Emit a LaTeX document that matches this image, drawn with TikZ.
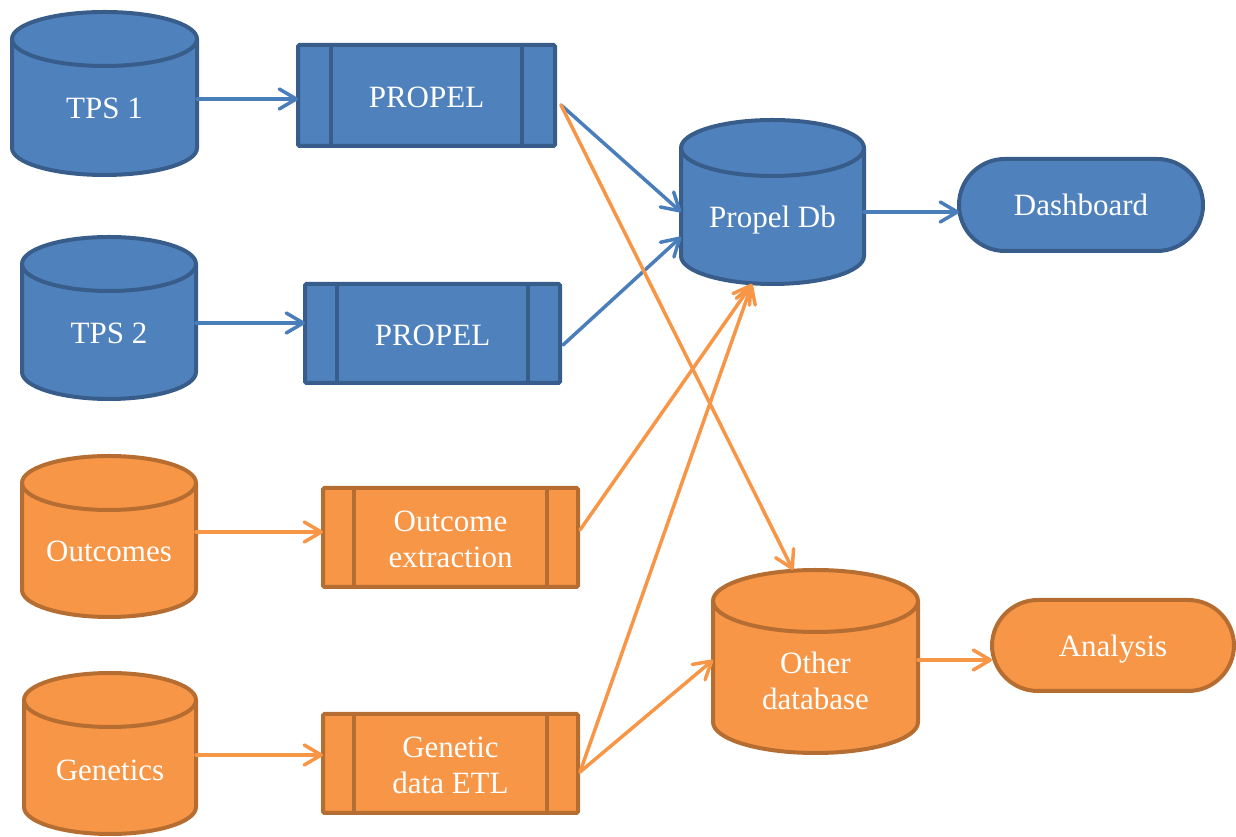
\documentclass[tikz,border=0pt]{standalone}
\usepackage{fontspec}
\setmainfont{Liberation Serif}
\usetikzlibrary{arrows.meta,calc}

\definecolor{bluefill}{HTML}{4F81BD}
\definecolor{blueline}{HTML}{385D8A}
\definecolor{bluearrow}{HTML}{4A7EBB}
\definecolor{orangefill}{HTML}{F79646}
\definecolor{orangeline}{HTML}{B66D31}
\definecolor{orangearrow}{HTML}{F79646}

\tikzset{
  lbl/.style={text=white, font=\fontsize{31}{36}\selectfont, align=center, inner sep=0pt},
  frame/.style={inner sep=0pt, outer sep=0pt},
  procbox/.style={frame, fill=#1fill, draw=#1line, line width=4pt, rounded corners=1.5pt,
    text=white, font=\fontsize{31}{36}\selectfont, align=center},
  terminal/.style={frame, fill=#1fill, draw=#1line, line width=4pt, rounded corners=45.9pt,
    text=white, font=\fontsize{31}{36}\selectfont, text depth=0pt, align=center},
  flow/.style={draw=#1arrow, line width=3.5pt, line cap=round,
    -{Straight Barb[length=17pt, width=20pt, line cap=round, line join=round]}},
}

% database cylinder: name, colour, centre, width, height, cap radius, label shift, label
\newcommand\dbcyl[8]{%
  \node[frame, minimum width=#4, minimum height=#5] (#1) at (#3) {};
  \filldraw[fill=#2fill, draw=#2line, line width=4pt, line join=round]
    ([yshift=-#6]#1.north west) -- ([yshift=#6]#1.south west)
    arc[start angle=180, end angle=360, x radius=#4/2, y radius=#6]
    -- ([yshift=-#6]#1.north east)
    arc[start angle=0, end angle=180, x radius=#4/2, y radius=#6] -- cycle;
  \draw[draw=#2line, line width=4pt] ([yshift=-#6]#1.north west)
    arc[start angle=180, end angle=360, x radius=#4/2, y radius=#6];
  \node[lbl] (#1-text) at ([yshift=#7]#1.center) {#8};
}

% predefined-process box: name, colour, centre, width, height, bar inset, label
\newcommand\process[7]{%
  \node[procbox=#2, minimum width=#4, minimum height=#5] (#1) at (#3) {};
  \draw[#2line, line width=4pt] ([xshift=#6]#1.north west) -- ([xshift=#6]#1.south west);
  \draw[#2line, line width=4pt] ([xshift=-#6]#1.north east) -- ([xshift=-#6]#1.south east);
  \node[lbl] (#1-text) at ([yshift=-1.5]#1.center) {#7};
}

\begin{document}
\begin{tikzpicture}[x=1pt, y=1pt]
\useasboundingbox (0,0) rectangle (1236,837);

% data sources
\dbcyl{tps1}{blue}{104.5,743.5}{185}{163}{27}{-14.5}{TPS 1}
\dbcyl{tps2}{blue}{109,519}{174}{162}{27}{-15}{TPS 2}
\dbcyl{outcomes}{orange}{109,300.5}{174}{161}{27}{-14.5}{Outcomes}
\dbcyl{genetics}{orange}{110,83.5}{172}{161}{27}{-16.5}{Genetics}

% target databases
\dbcyl{propeldb}{blue}{772.5,635}{183}{164}{28}{-18}{Propel Db}
\dbcyl{otherdb}{orange}{815.5,175.5}{205}{183}{31}{-19.5}{Other\\database}

% processing steps
\process{propel1}{blue}{426.5,741.5}{257}{101}{33}{PROPEL}
\process{propel2}{blue}{432.5,503.5}{255}{99}{32}{PROPEL}
\process{outext}{orange}{450.5,299.5}{255}{99}{31}{Outcome\\extraction}
\process{genetl}{orange}{450.5,73.5}{255}{99}{31}{Genetic\\data ETL}

% consumers
\node[terminal=blue, minimum width=244, minimum height=92] (dash) at (1081,632) {Dashboard};
\node[terminal=orange, minimum width=242, minimum height=91] (analysis) at (1113,191.5) {Analysis};

% branching points
\coordinate (p1out) at ([xshift=6,yshift=-9.5]propel1.east);
\coordinate (geneout) at ([xshift=2,yshift=-8.5]genetl.east);

% blue flows
\draw[flow=blue] ([yshift=-5.5]tps1.east) -- ([yshift=-5.5]tps1.east -| propel1.west);
\draw[flow=blue] ([yshift=-5]tps2.east) -- ([yshift=-5]tps2.east -| propel2.west);
\draw[flow=blue] (p1out) -- ([yshift=-10]propeldb.west);
\draw[flow=blue] ([xshift=3,yshift=-11.5]propel2.east) -- ([yshift=-35]propeldb.west);
\draw[flow=blue] ([yshift=-10]propeldb.east) -- ([yshift=-10]propeldb.east -| dash.west);

% orange flows
\draw[flow=orange] ([yshift=4.5]outcomes.east) -- ([yshift=4.5]outcomes.east -| outext.west);
\draw[flow=orange] ([yshift=-1.5]genetics.east) -- ([yshift=-1.5]genetics.east -| genetl.west);
\draw[flow=orange] (p1out) -- ([xshift=-22.5]otherdb.north);
\draw[flow=orange] ([xshift=2,yshift=7.5]outext.east) -- ([xshift=-20.5]propeldb.south);
\draw[flow=orange] (geneout) -- ([xshift=-20.5]propeldb.south);
\draw[flow=orange] (geneout) -- ([yshift=1.5]otherdb.west);
\draw[flow=orange] ([yshift=1.5]otherdb.east) -- ([yshift=1.5]otherdb.east -| analysis.west);
\end{tikzpicture}
\end{document}
